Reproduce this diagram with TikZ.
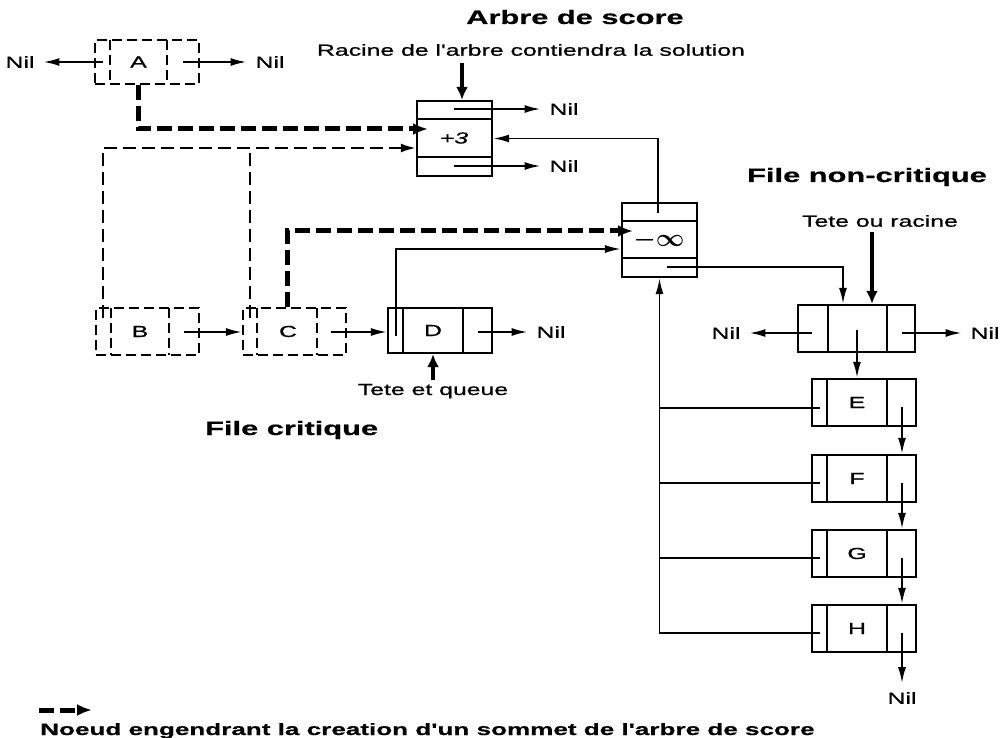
\documentclass[tikz,border=0pt]{standalone}
\usepackage{fontspec}
\setmainfont{Liberation Sans}
\newfontfamily\wf[FakeStretch=1.55,FakeBold=0.8]{Liberation Sans}
\newfontfamily\wfb[FakeStretch=1.58,FakeBold=0.6]{Liberation Sans}
\usetikzlibrary{arrows.meta}
\begin{document}
\begin{tikzpicture}[x=1pt,y=-1pt,
  bx/.style={draw, line width=2.3pt, inner sep=0pt},
  dbx/.style={bx, dash pattern=on 10pt off 5pt},
  div/.style={line width=2.3pt},
  ddiv/.style={line width=2.3pt, dash pattern=on 10pt off 5pt},
  lab/.style={inner sep=0pt, font=\wf\fontsize{16}{18}\selectfont},
  nil/.style={lab, outer sep=9pt},
  ttl/.style={inner sep=0pt, font=\wfb\bfseries\fontsize{19.5}{22}\selectfont},
  ptr/.style={line width=1.9pt, -{Latex[length=16pt,width=8pt]}},
  ln/.style={line width=1.9pt},
  tarr/.style={line width=4.5pt, -{Latex[length=13pt,width=12pt]}},
  tdash/.style={line width=5pt, dash pattern=on 15pt off 6pt, -{Latex[length=15pt,width=12pt]}},
  ldash/.style={line width=2.2pt, dash pattern=on 13pt off 6pt},
  ldasharr/.style={ldash, -{Latex[length=15pt,width=9pt]}}]
\useasboundingbox (0,0) rectangle (1004,738);

% ---- A
\node[dbx, minimum width=104pt, minimum height=44pt] (A) at (147,62) {};
\draw[ddiv] (110,40) -- (110,84) (167,40) -- (167,84);
\node[lab] (Al) at (138.5,62) {A};
\node[nil] (nA1) at (20,62) {Nil};
\node[nil] (nA2) at (270,62) {Nil};
\coordinate (Ap1) at (103,62);
\coordinate (Ap2) at (183,62);
\draw[ptr] (Ap1) -- (nA1);
\draw[ptr] (Ap2) -- (nA2);

% ---- +3
\node[ttl, anchor=west] (tA) at (466,17) {Arbre de score};
\node[bx, minimum width=75pt, minimum height=75pt] (P3) at (454.5,138.5) {};
\draw[div] (417,119) -- (492,119) (417,157) -- (492,157);
\node[lab, font=\wf\itshape\fontsize{16}{18}\selectfont] (P3l) at (454,138) {+3};
\node[nil] (nP1) at (564,109) {Nil};
\node[nil] (nP2) at (564,166) {Nil};
\coordinate (P3a) at (454,109);
\coordinate (P3b) at (454,166);
\draw[ptr] (P3a) -- (nP1);
\draw[ptr] (P3b) -- (nP2);
\node[lab] (rac) at (531,50) {Racine de l'arbre contiendra la solution};
\coordinate (racx) at (462,0);
\draw[tarr, shorten <=7pt] (rac.south -| racx) -- (P3.north -| racx);

% ---- -infinity
\node[bx, minimum width=75pt, minimum height=74pt] (MI) at (659.5,240) {};
\draw[div] (622,221) -- (697,221) (622,258) -- (697,258);
\node[inner sep=0pt, font=\boldmath\fontsize{24}{26}\selectfont] (MIl) at (659,240) {$-\infty$};
\coordinate (MIa) at (658,213);
\coordinate (MIb) at (667,267);
\draw[ptr] (MIa) |- (P3.east);

% ---- D
\node[bx, minimum width=104pt, minimum height=45pt] (D) at (440,330.5) {};
\draw[div] (403,308) -- (403,353) (463,308) -- (463,353);
\node[lab] (Dl) at (433,330.5) {D};
\coordinate (Dp) at (396,336);
\coordinate (Dr) at (478,332);
\node[nil] (nD) at (551,332) {Nil};
\draw[ptr] (Dr) -- (nD);
\coordinate (y249) at (0,249);
\draw[ptr] (Dp) |- (MI.west |- y249);
\node[lab, anchor=base] (tq) at (433,395) {Tete et queue};
\draw[tarr, shorten <=4pt] (tq.north) -- (D.south -| tq.north);

% ---- B, C
\node[dbx, minimum width=103pt, minimum height=47pt] (B) at (147.5,331.5) {};
\draw[ddiv] (111,308) -- (111,355) (169,308) -- (169,355);
\node[lab] (Bl) at (140,331.5) {B};
\node[dbx, minimum width=103pt, minimum height=47pt] (C) at (294.5,331.5) {};
\draw[ddiv] (257,308) -- (257,355) (317,308) -- (317,355);
\node[lab] (Cl) at (288,331.5) {C};
\coordinate (Bp) at (184,332);
\coordinate (Cp) at (331,332);
\draw[ptr] (Bp) -- (Bp -| C.west);
\draw[ptr] (Cp) -- (Cp -| D.west);

% thin dashed links to +3
\coordinate (Bd) at (103,318);
\coordinate (Cd) at (250,318);
\coordinate (y147) at (0,148);
\draw[ldasharr] (Bd) |- (P3.west |- y147);
\draw[ldash] (Cd) -- (Cd |- y147);

% thick dashed links
\coordinate (ax) at (138,0);
\coordinate (P3in) at (428,129);
\draw[tdash] (A.south -| ax) |- (P3in);
\coordinate (cx) at (287,0);
\coordinate (MIin) at (633,231);
\draw[tdash] (C.north -| cx) |- (MIin);

% ---- non-critical queue header
\node[ttl, anchor=base] (tNC) at (867,182) {File non-critique};
\node[bx, minimum width=117pt, minimum height=47pt] (NC) at (856.5,328.5) {};
\draw[div] (828,305) -- (828,352) (887,305) -- (887,352);
\node[nil] (nN1) at (726,333) {Nil};
\node[nil] (nN2) at (985,333) {Nil};
\coordinate (NCa) at (812,333);
\coordinate (NCb) at (902,333);
\coordinate (NCc) at (857,330);
\draw[ptr] (NCa) -- (nN1);
\draw[ptr] (NCb) -- (nN2);
\coordinate (x843) at (843,0);
\draw[ptr] (MIb) -| (NC.north -| x843);
\node[lab] (tor) at (880,221) {Tete ou racine};
\coordinate (x872) at (872,0);
\draw[tarr, shorten <=5pt] (tor.south -| x872) -- (NC.north -| x872);

% ---- E F G H
\node[bx, minimum width=104pt, minimum height=47pt] (E) at (864,402.5) {};
\node[bx, minimum width=104pt, minimum height=47pt] (F) at (864,478.5) {};
\node[bx, minimum width=104pt, minimum height=47pt] (G) at (864,553.5) {};
\node[bx, minimum width=104pt, minimum height=47pt] (H) at (864,628.5) {};
\draw[div] (827,379) -- (827,426) (887,379) -- (887,426)
           (827,455) -- (827,502) (887,455) -- (887,502)
           (827,530) -- (827,577) (887,530) -- (887,577)
           (827,605) -- (827,652) (887,605) -- (887,652);
\node[lab] (El) at (857,402.5) {E};
\node[lab] (Fl) at (857,478.5) {F};
\node[lab] (Gl) at (857,553.5) {G};
\node[lab] (Hl) at (857,628.5) {H};
\draw[ptr] (NCc) -- (E.north -| NCc);
\coordinate (Er) at (902,407);
\coordinate (Fr) at (902,483);
\coordinate (Gr) at (902,558);
\coordinate (Hr) at (902,633);
\draw[ptr] (Er) -- (Er |- F.north);
\draw[ptr] (Fr) -- (Fr |- G.north);
\draw[ptr] (Gr) -- (Gr |- H.north);
\node[nil] (nH) at (902,698) {Nil};
\draw[ptr] (Hr) -- (nH);
\coordinate (Ep) at (820,408);
\coordinate (Fp) at (820,483);
\coordinate (Gp) at (820,558);
\coordinate (Hp) at (820,633);
\draw[ln] (Ep) -- (Ep -| MI.south);
\draw[ln] (Fp) -- (Fp -| MI.south);
\draw[ln] (Gp) -- (Gp -| MI.south);
\draw[ptr] (Hp) -| (MI.south);

% ---- critical queue title
\node[ttl, anchor=base west] (tFC) at (205,435) {File critique};

% ---- legend
\coordinate (lg1) at (39,710);
\coordinate (lg2) at (92,710);
\draw[tdash] (lg1) -- (lg2);
\node[inner sep=0pt, anchor=base west, font=\wfb\bfseries\fontsize{16.5}{18}\selectfont] (leg) at (40,735) {Noeud engendrant la creation d'un sommet de l'arbre de score};
\end{tikzpicture}
\end{document}
